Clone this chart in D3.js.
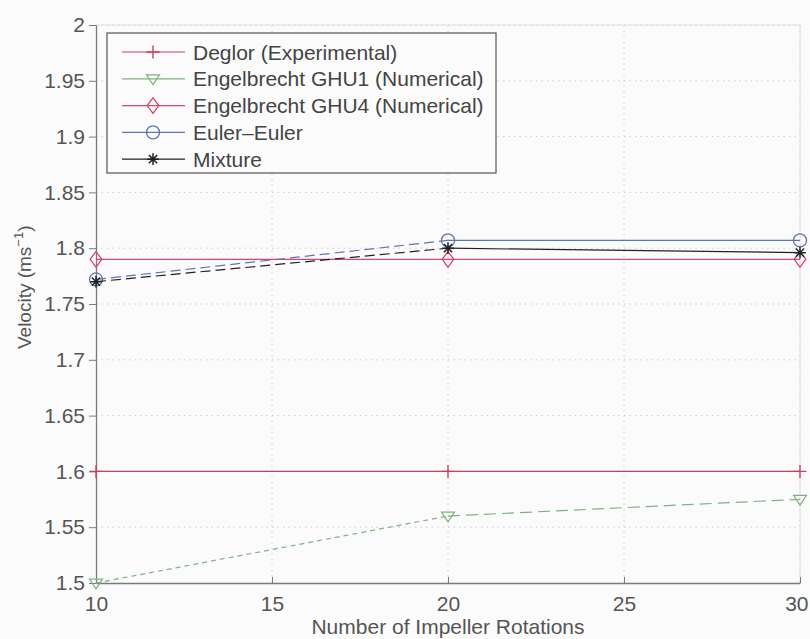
<!DOCTYPE html>
<html>
<head>
<meta charset="utf-8">
<script src="https://cdn.jsdelivr.net/npm/d3@7"></script>
<style>
  body { margin: 0; background: #fbfbfb; }
  svg { display: block; font-family: "Liberation Sans", Arial, sans-serif; }
</style>
</head>
<body>
<div id="chart"></div>
<script>
// data
const rotations = [10, 20, 30];
const deglor = [1.60, 1.60, 1.60];
const ghu1 = [1.50, 1.56, 1.575];
const ghu4 = [1.79, 1.79, 1.79];
const eulerEuler = [1.772, 1.807, 1.807];
const mixture = [1.770, 1.800, 1.796];

const seriesNames = ["Deglor (Experimental)", "Engelbrecht GHU1 (Numerical)", "Engelbrecht GHU4 (Numerical)", "Euler\u2013Euler", "Mixture"];
const xTicks = [10, 15, 20, 25, 30];
const yTicks = [1.5, 1.55, 1.6, 1.65, 1.7, 1.75, 1.8, 1.85, 1.9, 1.95, 2];

const width = 810, height = 639;
const margin = { top: 25, right: 10, bottom: 56, left: 96 };
const fontSize = "21px";

const series = [
    { name: seriesNames[0], values: deglor, color: "#d23c5a", marker: "plus", dash: null, firstDash: null },
    { name: seriesNames[1], values: ghu1, color: "#7fb27f", marker: "tri", dash: "12,6", firstDash: "5,4" },
    { name: seriesNames[2], values: ghu4, color: "#d8456e", marker: "diamond", dash: null, firstDash: null },
    { name: seriesNames[3], values: eulerEuler, color: "#5f74b4", marker: "circle", dash: null, firstDash: "10,5" },
    { name: seriesNames[4], values: mixture, color: "#222", marker: "star", dash: null, firstDash: "10,5" }
];

const svg = d3.select("#chart").append("svg")
    .attr("width", width)
    .attr("height", height);

const x = d3.scaleLinear().domain([10, 30]).range([margin.left, width - margin.right]);
const y = d3.scaleLinear().domain([1.5, 2]).range([height - margin.bottom, margin.top]);

// dotted grid
const grid = svg.append("g").attr("stroke", "#cccccc").attr("stroke-dasharray", "1.5,4");
grid.selectAll("line.gx").data(xTicks.slice(1)).enter().append("line")
    .attr("x1", d => x(d)).attr("x2", d => x(d))
    .attr("y1", y(2)).attr("y2", y(1.5));
grid.selectAll("line.gy").data(yTicks.slice(1)).enter().append("line")
    .attr("x1", x(10)).attr("x2", x(30))
    .attr("y1", d => y(d)).attr("y2", d => y(d));

// faint top/right box edges
svg.append("path")
    .attr("d", `M${x(10)},${y(2)}H${x(30)}V${y(1.5)}`)
    .attr("fill", "none").attr("stroke", "#e0e0e0");

// axes
const xAxis = d3.axisBottom(x).tickValues(xTicks).tickFormat(d3.format("d")).tickSizeInner(-6).tickSizeOuter(0).tickPadding(13);
const yAxis = d3.axisLeft(y).tickValues(yTicks).tickFormat(d => d === 2 ? "2" : (d === 1.5 ? "1.5" : d3.format(".2~f")(d))).tickSizeInner(7).tickSizeOuter(0).tickPadding(4);

const gx = svg.append("g").attr("transform", `translate(0,${y(1.5)})`).call(xAxis);
const gy = svg.append("g").attr("transform", `translate(${x(10)},0)`).call(yAxis);
[gx, gy].forEach(g => {
    g.select(".domain").attr("stroke", "#7a7a7a").attr("stroke-width", 1.3);
    g.selectAll(".tick line").attr("stroke", "#7a7a7a");
    g.selectAll("text").attr("fill", "#555").style("font-size", fontSize).style("font-family", "\"Liberation Sans\", Arial, sans-serif");
});
// the last x label sits at the page edge, keep it inside
gx.selectAll(".tick text").filter(d => d === 30).attr("text-anchor", "end").attr("dx", 8);

// markers
function drawMarker(g, type, cx, cy, color) {
    const s = 6.5;
    if (type === "plus") {
        g.append("path").attr("d", `M${cx - s},${cy}H${cx + s}M${cx},${cy - s}V${cy + s}`)
            .attr("stroke", color).attr("stroke-width", 1.4).attr("fill", "none");
    } else if (type === "tri") {
        g.append("path").attr("d", `M${cx - s},${cy - s * 0.6}L${cx + s},${cy - s * 0.6}L${cx},${cy + s * 0.9}Z`)
            .attr("stroke", color).attr("stroke-width", 1.2).attr("fill", "none");
    } else if (type === "diamond") {
        g.append("path").attr("d", `M${cx},${cy - s * 1.2}L${cx + s * 0.9},${cy}L${cx},${cy + s * 1.2}L${cx - s * 0.9},${cy}Z`)
            .attr("stroke", color).attr("stroke-width", 1.3).attr("fill", "none");
    } else if (type === "circle") {
        g.append("circle").attr("cx", cx).attr("cy", cy).attr("r", s)
            .attr("stroke", color).attr("stroke-width", 1.3).attr("fill", "none");
    } else if (type === "star") {
        const r = s * 0.9;
        let d = `M${cx - r},${cy}H${cx + r}M${cx},${cy - r}V${cy + r}`;
        d += `M${cx - r * 0.7},${cy - r * 0.7}L${cx + r * 0.7},${cy + r * 0.7}M${cx - r * 0.7},${cy + r * 0.7}L${cx + r * 0.7},${cy - r * 0.7}`;
        g.append("path").attr("d", d).attr("stroke", color).attr("stroke-width", 1.5).attr("fill", "none");
    }
}

const line = d3.line().x(d => x(d[0])).y(d => y(d[1]));
const plot = svg.append("g");
series.forEach(s => {
    const pts = rotations.map((r, i) => [r, s.values[i]]);
    // first segment (10 -> 20) and second segment (20 -> 30)
    plot.append("path").attr("d", line(pts.slice(0, 2)))
        .attr("fill", "none").attr("stroke", s.color).attr("stroke-width", 1.2)
        .attr("stroke-dasharray", s.firstDash);
    plot.append("path").attr("d", line(pts.slice(1)))
        .attr("fill", "none").attr("stroke", s.color).attr("stroke-width", 1.2)
        .attr("stroke-dasharray", s.dash);
    pts.forEach(p => drawMarker(plot, s.marker, x(p[0]), y(p[1]), s.color));
});

// legend
const legend = svg.append("g").attr("transform", "translate(107,33)");
legend.append("rect").attr("width", 389).attr("height", 140)
    .attr("fill", "#fbfbfb").attr("stroke", "#555").attr("stroke-width", 1.2);
series.forEach((s, i) => {
    const ly = 19 + i * 26.8;
    legend.append("line").attr("x1", 15).attr("x2", 78).attr("y1", ly).attr("y2", ly)
        .attr("stroke", s.color).attr("stroke-width", 1.2);
    drawMarker(legend, s.marker, 46, ly, s.color);
    legend.append("text").attr("x", 86).attr("y", ly + 7.5)
        .attr("fill", "#444").style("font-size", fontSize)
        .text(s.name);
});

// axis labels
svg.append("text")
    .attr("x", x(20)).attr("y", 634)
    .attr("text-anchor", "middle").attr("fill", "#555").style("font-size", fontSize)
    .text("Number of Impeller Rotations");

const yl = svg.append("text")
    .attr("transform", `translate(31,${y(1.765)}) rotate(-90)`)
    .attr("text-anchor", "middle").attr("fill", "#555").style("font-size", "19px");
yl.append("tspan").text("Velocity (ms");
yl.append("tspan").attr("dy", -8).style("font-size", "13px").text("\u22121");
yl.append("tspan").attr("dy", 8).text(")");
</script>
</body>
</html>
